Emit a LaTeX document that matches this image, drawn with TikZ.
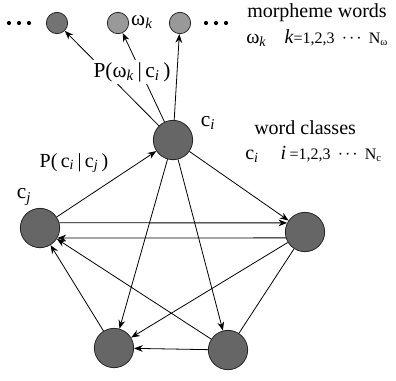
\documentclass[tikz,border=0pt]{standalone}
\usepackage{fontspec}
\setmainfont{Liberation Serif}
\usetikzlibrary{arrows.meta}

\newcommand{\dotsep}{\hspace{0.45em}\textperiodcentered\hspace{0.12em}\textperiodcentered\hspace{0.12em}\textperiodcentered\hspace{0.45em}}

\begin{document}
\begin{tikzpicture}[
  x=0.75pt, y=-0.75pt,
  cls/.style={circle, draw=black!85, fill=black!60, line width=0.6pt,
              minimum size=29.5pt, inner sep=0pt},
  word/.style={circle, draw=black!85, line width=0.6pt,
               minimum size=16pt, inner sep=0pt},
  arrow/.style={-{Stealth[length=6.5pt, width=5pt]}, line width=0.6pt},
  lab/.style={font=\fontsize{16}{18}\selectfont, inner sep=1pt},
  side/.style={anchor=west, inner sep=0pt, font=\fontsize{15}{17}\selectfont}
]
\useasboundingbox (0,0) rectangle (396,380);

% word layer
\node[word, fill=black!55] (wa) at (57,23) {};
\node[word, fill=black!40] (wb) at (118,23) {};
\node[word, fill=black!40] (wc) at (180,23) {};
\foreach \x in {9,19,29,206,216,226}
  \fill (\x,23) circle (2.1);
\node[lab] (wk) at (142,22) {ω\textsubscript{\textit{k}}};

% class layer
\node[cls] (ci) at (173,140) {};
\node[cls] (cj) at (40,228) {};
\node[cls] (cr) at (305,232) {};
\node[cls] (cbl) at (114,348) {};
\node[cls] (cbr) at (228,350) {};

\node[lab] (lci) at (208,123) {c\textsubscript{\textit{i}}};
\node[lab] (lcj) at (24,197) {c\textsubscript{\textit{j}}};

% emission
\draw[arrow] (ci) -- (wa);
\draw[arrow] (ci) -- (wb);
\draw[arrow] (ci) -- (wc);
\node[lab, fill=white, inner sep=2pt] (pw) at (132,72)
  {P(ω\textsubscript{\textit{k}}\,|\,c\textsubscript{\textit{i}}\,)};

% transitions
\draw[arrow] (cj) -- (ci);
\draw[arrow] (ci) -- (cr);
\draw[arrow] (ci) -- (cbl);
\draw[arrow] (ci) -- (cbr);
\draw[arrow] (cj.15) -- (cr.153);
\draw[arrow] (cr.197) -- (cj.-30);
\draw[arrow] (cr) -- (cbl);
\draw[line width=0.6pt] (cr) -- (cbr);
\draw[arrow] (cbr) -- (cbl);
\draw[arrow] (cbr) -- (cj);
\draw[arrow] (cbl) -- (cj);

\node[lab, font=\fontsize{15}{17}\selectfont] (pc) at (74,163)
  {P(\,c\textsubscript{\textit{i}}\,|\,c\textsubscript{\textit{j}}\,)};

% legend
\node[side] (mw) at (247,13) {morpheme words};
\node[side] (mk) at (246,38)
  {ω\textsubscript{\textit{k}}\hspace{0.9em}\textit{k}{\fontsize{12}{14}\selectfont=1,2,3\dotsep N\textsubscript{ω}}};
\node[side] (wcl) at (254,128) {word classes};
\node[side] (ck) at (245,154)
  {c\textsubscript{\textit{i}}\hspace{1.1em}\textit{i}\,{\fontsize{12}{14}\selectfont=1,2,3\dotsep N\textsubscript{c}}};

\end{tikzpicture}
\end{document}
